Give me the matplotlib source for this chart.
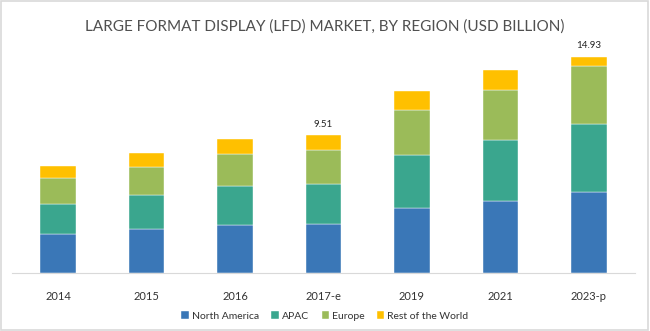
import matplotlib.pyplot as plt
from matplotlib.patches import Rectangle
import numpy as np

years = ["2014", "2015", "2016", "2017-e", "2019", "2021", "2023-p"]
north_america = [2.66, 3.02, 3.32, 3.37, 4.47, 4.95, 5.60]
apac = [2.10, 2.37, 2.66, 2.77, 3.70, 4.19, 4.70]
europe = [1.77, 1.95, 2.23, 2.32, 3.10, 3.45, 3.96]
rest_of_world = [0.88, 0.92, 1.03, 1.05, 1.31, 1.38, 0.67]
labelled = {"2017-e": "9.51", "2023-p": "14.93"}

series = [
    ("North America", north_america, "#3A77B7"),
    ("APAC", apac, "#3AA68E"),
    ("Europe", europe, "#9BBB59"),
    ("Rest of the World", rest_of_world, "#FFC000"),
]

plt.rcParams['font.family'] = ['Lato', 'DejaVu Sans']

fig = plt.figure(figsize=(6.5, 3.31), dpi=100)
ax = fig.add_axes([12 / 650, 58 / 331, 623 / 650, 232 / 331])

x = np.arange(len(years))
bottom = np.zeros(len(years))
for name, vals, col in series:
    ax.bar(x, vals, 0.4, bottom=bottom, color=col, label=name,
           edgecolor="white", linewidth=0.3)
    bottom += np.array(vals)

for i, yr in enumerate(years):
    if yr in labelled:
        ax.text(x[i], bottom[i] + 0.45, labelled[yr], ha="center", va="bottom",
                fontsize=7, color="#222222")

ax.set_xlim(-0.52, len(years) - 0.48)
ax.set_ylim(0, 16)
ax.set_yticks([])
ax.set_xticks(x)
ax.set_xticklabels(years, fontsize=8, color="#333333")
ax.tick_params(axis="x", length=0, pad=13)
for s in ["top", "right", "left"]:
    ax.spines[s].set_visible(False)
ax.spines["bottom"].set_color("#D9D9D9")

fig.text(0.5, 1 - 27 / 331, "LARGE FORMAT DISPLAY (LFD) MARKET, BY REGION (USD BILLION)",
         ha="center", va="center", fontsize=11, color="#505050")

fig.legend(loc="center", bbox_to_anchor=(0.5, 1 - 316 / 331), ncol=4, frameon=False,
           fontsize=7.5, handlelength=0.7, handleheight=0.7, handletextpad=0.3,
           columnspacing=1.2, labelcolor="#333333")

fig.patches.append(Rectangle((0.002, 0.003), 0.995, 0.994, transform=fig.transFigure,
                             fill=False, edgecolor="#D9D9D9", linewidth=1.2))

fig.savefig("out.png", dpi=100, facecolor="white")
